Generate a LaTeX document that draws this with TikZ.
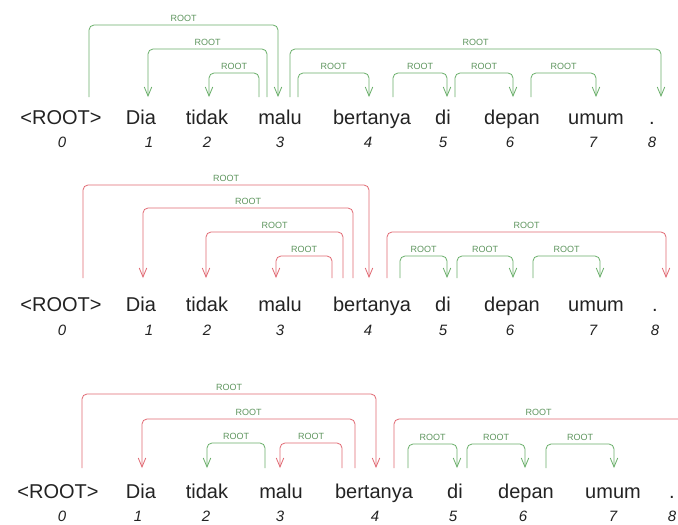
\documentclass[tikz,border=0pt]{standalone}
\usepackage{fontspec}
\setmainfont{Liberation Sans}
\usetikzlibrary{arrows.meta}
\definecolor{arcgreen}{RGB}{105,175,105}
\definecolor{arcred}{RGB}{225,105,115}
\definecolor{lblgreen}{RGB}{95,150,95}
\definecolor{wordgrey}{RGB}{35,35,35}
\tikzset{
  word/.style={anchor=base, inner sep=0pt, text=wordgrey, font=\fontsize{20}{24}\selectfont},
  idx/.style={anchor=base, inner sep=0pt, text=wordgrey, font=\fontsize{15}{18}\selectfont\itshape},
  deparc/.style={line width=0.8pt, rounded corners=5pt, -{Straight Barb[length=9pt,width=7.5pt,line width=0.8pt]}},
  deplbl/.style={font=\fontsize{9}{10}\selectfont, text=lblgreen, above=3pt, inner sep=0pt}
}
\newcommand\deparcdraw[5]{% colour, x source, x target, y top, y bottom
  \draw[deparc,#1] (#2,#5) -- (#2,#4) -- node[deplbl]{ROOT} (#3,#4) -- (#3,#5);}
\begin{document}
\begin{tikzpicture}[x=1pt,y=-1pt]
\useasboundingbox (0,0) rectangle (678,525);
\clip (0,0) rectangle (678,525);
\fill[white] (0,0) rectangle (678,525);

% ---------- panel 1 ----------
\foreach \w/\x [count=\i from 0] in {{<ROOT>}/61,Dia/141,tidak/207,malu/280,bertanya/372,di/443,depan/512,umum/596,./652}
  \node[word] (a\i) at (\x,124) {\w};
\foreach \x [count=\i from 0] in {62,149,207,280,368,443,510,593,652}
  \node[idx] (an\i) at (\x,147) {\i};
\deparcdraw{arcgreen}{89}{278}{25}{97}
\deparcdraw{arcgreen}{267}{148}{49}{97}
\deparcdraw{arcgreen}{259}{209}{73}{97}
\deparcdraw{arcgreen}{290}{661}{49}{97}
\deparcdraw{arcgreen}{298}{369}{73}{97}
\deparcdraw{arcgreen}{393}{447}{73}{97}
\deparcdraw{arcgreen}{455}{513}{73}{97}
\deparcdraw{arcgreen}{531}{596}{73}{97}

% ---------- panel 2 ----------
\foreach \w/\x [count=\i from 0] in {{<ROOT>}/61,Dia/141,tidak/207,malu/280,bertanya/372,di/443,depan/512,umum/596,./655}
  \node[word] (b\i) at (\x,311) {\w};
\foreach \x [count=\i from 0] in {62,149,207,280,368,443,510,593,655}
  \node[idx] (bn\i) at (\x,335) {\i};
\deparcdraw{arcred}{83}{369}{185}{278}
\deparcdraw{arcred}{353}{143}{208}{278}
\deparcdraw{arcred}{343}{206}{232}{278}
\deparcdraw{arcred}{332}{276}{256}{278}
\deparcdraw{arcred}{387}{666}{232}{278}
\deparcdraw{arcgreen}{400}{447}{256}{278}
\deparcdraw{arcgreen}{457}{513}{256}{278}
\deparcdraw{arcgreen}{533}{600}{256}{278}

% ---------- panel 3 ----------
\foreach \w/\x [count=\i from 0] in {{<ROOT>}/58,Dia/141,tidak/207,malu/281,bertanya/374,di/455,depan/526,umum/613,./672}
  \node[word] (c\i) at (\x,498) {\w};
\foreach \x [count=\i from 0] in {62,138,206,280,375,453,523,613,672}
  \node[idx] (cn\i) at (\x,521) {\i};
\deparcdraw{arcred}{82}{376}{394}{468}
\deparcdraw{arcred}{355}{142}{419}{468}
\deparcdraw{arcgreen}{265}{207}{443}{468}
\deparcdraw{arcred}{342}{280}{443}{468}
\deparcdraw{arcred}{394}{683}{419}{468}
\deparcdraw{arcgreen}{408}{457}{444}{468}
\deparcdraw{arcgreen}{467}{525}{444}{468}
\deparcdraw{arcgreen}{546}{614}{444}{468}
\end{tikzpicture}
\end{document}
